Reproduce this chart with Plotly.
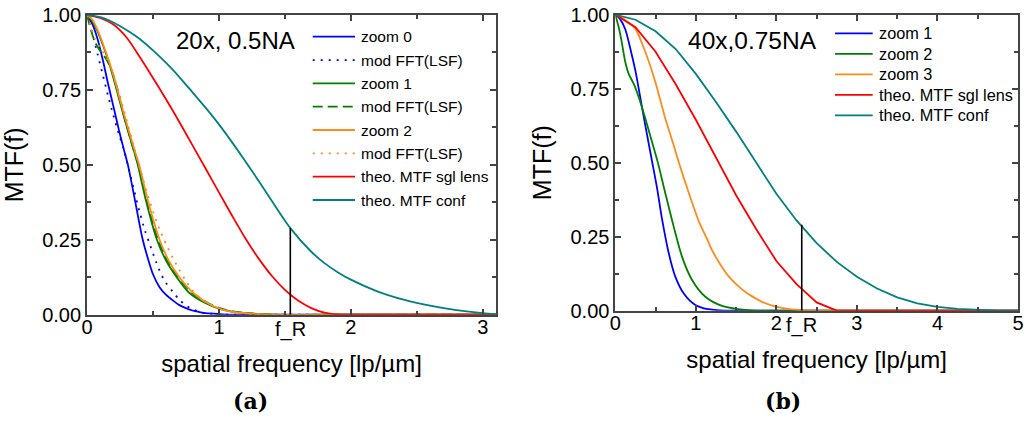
import plotly.graph_objects as go

W, H = 1029, 423

# ---------------- data: panel (a) 20x, 0.5NA ----------------
a_zoom0_x = [0, 0.04, 0.08, 0.12, 0.16, 0.2, 0.24, 0.28, 0.31, 0.36, 0.42, 0.46, 0.5, 0.55, 0.6, 0.65, 0.7, 0.75, 0.8, 0.85, 0.9, 1.0, 1.1, 1.5, 2.0, 2.5, 3.1]
a_zoom0_y = [1, 0.97, 0.92, 0.85, 0.77, 0.695, 0.62, 0.55, 0.5, 0.39, 0.255, 0.19, 0.135, 0.092, 0.066, 0.048, 0.032, 0.022, 0.014, 0.009, 0.005, 0.002, 0.0, 0, 0, 0, 0]

a_zoom0_fft_x = [0, 0.04, 0.08, 0.12, 0.16, 0.2, 0.24, 0.28, 0.32, 0.36, 0.40, 0.44, 0.48, 0.52, 0.56, 0.6, 0.65, 0.7, 0.75, 0.8, 0.85, 0.9, 1.0, 1.1, 1.5, 2.0, 2.5, 3.1]
a_zoom0_fft_y = [1, 0.94, 0.87, 0.80, 0.73, 0.665, 0.605, 0.55, 0.48, 0.41, 0.34, 0.28, 0.23, 0.18, 0.137, 0.105, 0.077, 0.05, 0.031, 0.018, 0.01, 0.005, 0.002, 0.0, 0, 0, 0, 0]

a_zoom1_x = [0, 0.04, 0.08, 0.12, 0.16, 0.2, 0.24, 0.28, 0.32, 0.36, 0.385, 0.45, 0.53, 0.6, 0.68, 0.77, 0.9, 1.0, 1.1, 1.2, 1.3, 1.4, 2.0, 2.5, 3.1]
a_zoom1_y = [1, 0.98, 0.945, 0.90, 0.85, 0.79, 0.725, 0.66, 0.60, 0.54, 0.5, 0.375, 0.25, 0.18, 0.125, 0.075, 0.038, 0.02, 0.01, 0.005, 0.002, 0, 0, 0, 0]

a_zoom1_fft_x = [0, 0.03, 0.06, 0.1, 0.15, 0.2, 0.24, 0.28, 0.32, 0.36, 0.39, 0.455, 0.54, 0.61, 0.69, 0.79, 0.92, 1.02, 1.12, 1.25, 1.4, 2.0, 2.5, 3.1]
a_zoom1_fft_y = [1, 0.95, 0.91, 0.88, 0.85, 0.80, 0.735, 0.665, 0.60, 0.54, 0.5, 0.375, 0.25, 0.18, 0.125, 0.075, 0.038, 0.02, 0.01, 0.004, 0, 0, 0, 0]

a_zoom2_x = [0, 0.04, 0.08, 0.12, 0.16, 0.2, 0.24, 0.28, 0.32, 0.36, 0.395, 0.465, 0.55, 0.62, 0.70, 0.8, 0.95, 1.07, 1.2, 1.3, 1.4, 2.0, 2.5, 3.1]
a_zoom2_y = [1, 0.985, 0.95, 0.905, 0.855, 0.80, 0.735, 0.67, 0.61, 0.55, 0.5, 0.375, 0.25, 0.18, 0.125, 0.075, 0.03, 0.012, 0.005, 0.002, 0, 0, 0, 0]

a_zoom2_fft_x = [0, 0.03, 0.06, 0.1, 0.15, 0.2, 0.25, 0.3, 0.35, 0.4, 0.45, 0.5, 0.55, 0.6, 0.65, 0.7, 0.75, 0.8, 0.86, 0.91, 1.0, 1.1, 1.2, 1.3, 2.0, 2.5, 3.1]
a_zoom2_fft_y = [1, 0.96, 0.92, 0.89, 0.855, 0.80, 0.73, 0.65, 0.57, 0.49, 0.415, 0.345, 0.285, 0.235, 0.19, 0.15, 0.112, 0.082, 0.055, 0.04, 0.022, 0.01, 0.004, 0, 0, 0, 0]

a_sgl_x = [0, 0.1, 0.2, 0.3, 0.4, 0.5, 0.6, 0.7, 0.8, 0.9, 1.0, 1.1, 1.2, 1.3, 1.4, 1.5, 1.6, 1.7, 1.8, 1.9, 2.0, 2.5, 3.1]
a_sgl_y = [1, 0.99, 0.968, 0.925, 0.86, 0.79, 0.718, 0.643, 0.565, 0.487, 0.408, 0.33, 0.255, 0.188, 0.13, 0.083, 0.047, 0.022, 0.007, 0.001, 0, 0, 0]

a_conf_x = [0, 0.1, 0.2, 0.3, 0.4, 0.5, 0.6, 0.7, 0.8, 0.9, 1.0, 1.1, 1.2, 1.3, 1.4, 1.541, 1.7, 1.8, 1.9, 2.0, 2.2, 2.4, 2.6, 2.8, 3.0, 3.1]
a_conf_y = [1, 0.993, 0.975, 0.95, 0.92, 0.882, 0.84, 0.793, 0.742, 0.69, 0.635, 0.575, 0.512, 0.447, 0.38, 0.289, 0.21, 0.172, 0.142, 0.117, 0.078, 0.05, 0.03, 0.015, 0.005, 0.002]

a_fR = 1.541
a_fR_mtf = 0.289

# ---------------- data: panel (b) 40x, 0.75NA ----------------
b_zoom1_x = [0, 0.06, 0.124, 0.2, 0.25, 0.307, 0.373, 0.456, 0.518, 0.58, 0.663, 0.745, 0.85, 0.994, 1.1, 1.2, 1.3, 1.5, 2, 3, 4, 5]
b_zoom1_y = [1, 0.985, 0.95, 0.87, 0.81, 0.725, 0.625, 0.505, 0.415, 0.31, 0.195, 0.115, 0.058, 0.019, 0.008, 0.004, 0.001, 0, 0, 0, 0, 0]

b_zoom2_x = [0, 0.04, 0.075, 0.124, 0.166, 0.228, 0.29, 0.373, 0.456, 0.527, 0.621, 0.725, 0.829, 0.953, 1.118, 1.325, 1.53, 1.7, 2, 3, 4, 5]
b_zoom2_y = [1, 0.96, 0.915, 0.84, 0.80, 0.767, 0.722, 0.649, 0.57, 0.502, 0.397, 0.284, 0.182, 0.104, 0.047, 0.016, 0.005, 0.001, 0, 0, 0, 0]

b_zoom3_x = [0, 0.07, 0.145, 0.248, 0.373, 0.497, 0.621, 0.725, 0.79, 0.91, 1.04, 1.135, 1.2, 1.3, 1.41, 1.51, 1.615, 1.72, 1.82, 1.95, 2.1, 2.3, 2.5, 3, 4, 5]
b_zoom3_y = [1, 0.992, 0.977, 0.953, 0.874, 0.773, 0.649, 0.559, 0.50, 0.40, 0.30, 0.245, 0.205, 0.158, 0.115, 0.087, 0.063, 0.045, 0.030, 0.017, 0.008, 0.002, 0, 0, 0, 0]

b_sgl_x = [0, 0.25, 0.5, 0.75, 1.0, 1.25, 1.5, 1.75, 2.0, 2.25, 2.5, 2.75, 3, 4, 5]
b_sgl_y = [1, 0.958, 0.875, 0.765, 0.645, 0.52, 0.39, 0.275, 0.168, 0.09, 0.028, 0, 0, 0, 0]

b_conf_x = [0, 0.25, 0.5, 0.75, 1.0, 1.25, 1.5, 1.75, 2.0, 2.25, 2.5, 2.75, 3.0, 3.25, 3.5, 3.75, 4.0, 4.25, 4.5, 4.75, 5.0]
b_conf_y = [1, 0.983, 0.944, 0.884, 0.80, 0.705, 0.605, 0.50, 0.395, 0.305, 0.228, 0.165, 0.115, 0.075, 0.045, 0.025, 0.013, 0.006, 0.002, 0, 0]

b_fR = 2.315
b_fR_mtf = 0.29

# ---------------- labels ----------------
a_legend = ["zoom 0", "mod FFT(LSF)", "zoom 1", "mod FFT(LSF)", "zoom 2", "mod FFT(LSF)", "theo. MTF sgl lens", "theo. MTF conf"]
b_legend = ["zoom 1", "zoom 2", "zoom 3", "theo. MTF sgl lens", "theo. MTF conf"]
a_title = "20x, 0.5NA"
b_title = "40x,0.75NA"
a_xticks = [0, 1, 2, 3]
b_xticks = [0, 1, 2, 3, 4, 5]
y_ticks = [0, 0.25, 0.5, 0.75, 1.0]
fR_label = "f_R"
x_title = "spatial frequency [lp/µm]"
y_title = "MTF(f)"
captions = ["(a)", "(b)"]

BLUE = "#0000ff"
GREEN = "#008000"
ORANGE = "#ff8c1a"
RED = "#ff0000"
TEAL = "#008080"
DOT = "2px,6px"
DASH = "10px,5px"
FONT = "Liberation Sans, Arial, sans-serif"

a_styles = [(BLUE, "solid"), (BLUE, DOT), (GREEN, "solid"), (GREEN, DASH),
            (ORANGE, "solid"), (ORANGE, DOT), (RED, "solid"), (TEAL, "solid")]
b_styles = [(BLUE, "solid"), (GREEN, "solid"), (ORANGE, "solid"), (RED, "solid"), (TEAL, "solid")]

a_series = [(a_zoom0_x, a_zoom0_y), (a_zoom0_fft_x, a_zoom0_fft_y), (a_zoom1_x, a_zoom1_y),
            (a_zoom1_fft_x, a_zoom1_fft_y), (a_zoom2_x, a_zoom2_y), (a_zoom2_fft_x, a_zoom2_fft_y),
            (a_sgl_x, a_sgl_y), (a_conf_x, a_conf_y)]
b_series = [(b_zoom1_x, b_zoom1_y), (b_zoom2_x, b_zoom2_y), (b_zoom3_x, b_zoom3_y),
            (b_sgl_x, b_sgl_y), (b_conf_x, b_conf_y)]
b_shapes = ["spline", "spline", "spline", "linear", "linear"]

fig = go.Figure()

for (xs, ys), (col, dash), name in zip(a_series, a_styles, a_legend):
    fig.add_trace(go.Scatter(x=xs, y=ys, mode="lines", name=name, xaxis="x", yaxis="y",
                             line=dict(color=col, width=1.8, dash=dash, shape="spline", smoothing=0.8),
                             showlegend=False, hoverinfo="skip"))
fig.add_trace(go.Scatter(x=[a_fR, a_fR], y=[0, a_fR_mtf], mode="lines", xaxis="x", yaxis="y",
                         line=dict(color="black", width=1.6), showlegend=False, hoverinfo="skip"))

for (xs, ys), (col, dash), name, shp in zip(b_series, b_styles, b_legend, b_shapes):
    line = dict(color=col, width=1.8, dash=dash, shape=shp)
    if shp == "spline":
        line["smoothing"] = 0.8
    fig.add_trace(go.Scatter(x=xs, y=ys, mode="lines", name=name, xaxis="x2", yaxis="y2",
                             line=line, showlegend=False, hoverinfo="skip"))
fig.add_trace(go.Scatter(x=[b_fR, b_fR], y=[0, b_fR_mtf], mode="lines", xaxis="x2", yaxis="y2",
                         line=dict(color="black", width=1.6), showlegend=False, hoverinfo="skip"))


def px(x):
    return x / W


def py(y):
    return 1 - y / H


AX = "#444444"
common = dict(showline=True, linecolor=AX, linewidth=1.8, mirror="allticks", ticks="inside",
              ticklen=6, tickwidth=1.5, tickcolor=AX, showgrid=False, zeroline=False, automargin=False,
              tickfont=dict(family=FONT, size=20, color="black"))

fig.update_layout(
    template="none",
    width=W, height=H, margin=dict(l=0, r=0, t=0, b=0, autoexpand=False),
    paper_bgcolor="white", plot_bgcolor="white",
    xaxis=dict(domain=[px(87), px(496)], range=[0, 3.1], tickvals=a_xticks, anchor="y", ticklabelstandoff=-7,
               minor=dict(tickvals=[0.5, 1.5, 2.5], ticklen=4, tickwidth=1.5, tickcolor=AX, ticks="inside"),
               title=dict(text=x_title, font=dict(family=FONT, size=24, color="black"), standoff=19),
               **common),
    yaxis=dict(domain=[py(314.7), py(15)], range=[0, 1], tickvals=y_ticks, tickformat=".2f", anchor="x",
               minor=dict(dtick=0.125, ticklen=4, tickwidth=1.5, tickcolor=AX, ticks="inside"),
               title=dict(text=y_title, font=dict(family=FONT, size=25, color="black"), standoff=12),
               **common),
    xaxis2=dict(domain=[px(615.3), px(1018)], range=[0, 5], tickvals=b_xticks, anchor="y2", ticklabelstandoff=-7,
                minor=dict(dtick=0.5, ticklen=4, tickwidth=1.5, tickcolor=AX, ticks="inside"),
                title=dict(text=x_title, font=dict(family=FONT, size=24, color="black"), standoff=19),
                **common),
    yaxis2=dict(domain=[py(310.7), py(14.7)], range=[0, 1], tickvals=y_ticks, tickformat=".2f", anchor="x2",
                minor=dict(dtick=0.125, ticklen=4, tickwidth=1.5, tickcolor=AX, ticks="inside"),
                title=dict(text=y_title, font=dict(family=FONT, size=25, color="black"), standoff=12),
                **common),
)

ann = []
shapes = []
# f_R tick labels
ann.append(dict(x=a_fR, y=0, xref="x", yref="y", text=fR_label, showarrow=False, yanchor="top",
                yshift=-1, font=dict(family=FONT, size=20, color="black")))
ann.append(dict(x=b_fR, y=0, xref="x2", yref="y2", text=fR_label, showarrow=False, yanchor="top",
                yshift=-1, font=dict(family=FONT, size=20, color="black")))
# panel titles
ann.append(dict(x=px(235.5), y=py(40.5), xref="paper", yref="paper", text=a_title, showarrow=False,
                xanchor="center", yanchor="middle", font=dict(family=FONT, size=24, color="black")))
ann.append(dict(x=px(752), y=py(40.8), xref="paper", yref="paper", text=b_title, showarrow=False,
                xanchor="center", yanchor="middle", font=dict(family=FONT, size=24.5, color="black")))
# captions
for cx, cap in zip([250.7, 783.3], captions):
    ann.append(dict(x=px(cx), y=py(401), xref="paper", yref="paper", text="<b>" + cap + "</b>",
                    showarrow=False, xanchor="center", yanchor="middle",
                    font=dict(family="DejaVu Serif, serif", size=22, color="black")))

# manual legends
def legend(labels, styles, lx0, lx1, tx, y0, step, fsize):
    for i, (lab, (col, dash)) in enumerate(zip(labels, styles)):
        yy = y0 + i * step
        shapes.append(dict(type="line", xref="paper", yref="paper", x0=px(lx0), x1=px(lx1),
                           y0=py(yy), y1=py(yy), line=dict(color=col, width=1.8, dash=dash)))
        ann.append(dict(x=px(tx), y=py(yy), xref="paper", yref="paper", text=lab, showarrow=False,
                        xanchor="left", yanchor="middle", font=dict(family=FONT, size=fsize, color="black")))

legend(a_legend, a_styles, 312.7, 355, 358.5, 36.7, 23.33, 15.5)
legend(b_legend, b_styles, 835, 872.7, 876.5, 33.3, 20.5, 16.3)

fig.update_layout(annotations=ann, shapes=shapes)

fig.write_html("out.html")
